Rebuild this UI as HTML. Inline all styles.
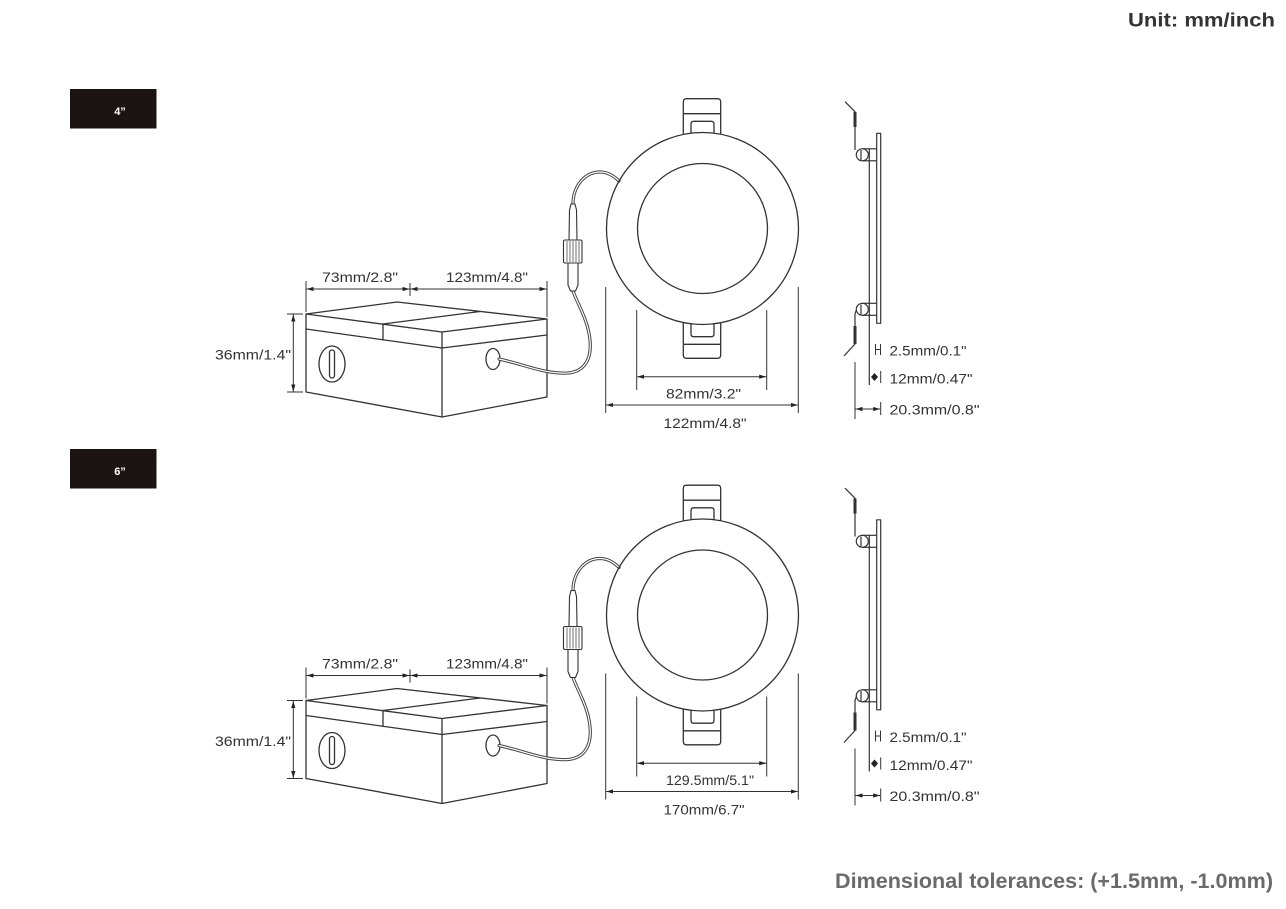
<!DOCTYPE html>
<html>
<head>
<meta charset="utf-8">
<style>
  html, body { margin:0; padding:0; background:#fff; }
  body { width:1286px; height:909px; overflow:hidden; }
  svg { display:block; }
  .dim { font-family:"Liberation Sans", sans-serif; font-size:14px; fill:#333; }
</style>
</head>
<body>
<svg width="1286" height="909" viewBox="0 0 1286 909" xmlns="http://www.w3.org/2000/svg">
  <defs>
    <marker id="ar" viewBox="0 0 10 6" refX="10" refY="3" markerWidth="7" markerHeight="4.4" orient="auto-start-reverse" markerUnits="userSpaceOnUse">
      <path d="M0,0 L10,3 L0,6 z" fill="#222"/>
    </marker>
  </defs>
  <rect width="1286" height="909" fill="#fff"/>

  <!-- Header / footer -->
  <text x="1128" y="26.5" textLength="147" lengthAdjust="spacingAndGlyphs" font-family="Liberation Sans, sans-serif" font-weight="bold" font-size="19" fill="#333">Unit: mm/inch</text>
  <text x="835" y="888" textLength="438" lengthAdjust="spacingAndGlyphs" font-family="Liberation Sans, sans-serif" font-weight="bold" font-size="21" fill="#6a6a6a">Dimensional tolerances: (+1.5mm, -1.0mm)</text>

  <!-- Size labels -->
  <rect x="70" y="89" width="86.5" height="39.5" fill="#1b1412"/>
  <text x="120" y="115" text-anchor="middle" font-family="Liberation Sans, sans-serif" font-weight="bold" font-size="11" fill="#fff">4”</text>
  <rect x="70" y="449" width="86.5" height="39.5" fill="#1b1412"/>
  <text x="120" y="475" text-anchor="middle" font-family="Liberation Sans, sans-serif" font-weight="bold" font-size="11" fill="#fff">6”</text>

  <!-- ================= TOP SECTION (4") ================= -->
  <g>
    <g fill="none" stroke="#333" stroke-width="1.3" stroke-linejoin="round" stroke-linecap="round">
      <!-- junction box -->
      <polygon points="306,314 397,302 547,319 442,332"/>
      <line x1="383" y1="324" x2="480" y2="311.5"/>
      <line x1="383" y1="324" x2="383" y2="340"/>
      <polyline points="306,329 442,348 547,335"/>
      <polyline points="306,314 306,392 442,417 547,397 547,319"/>
      <line x1="442" y1="332" x2="442" y2="417"/>
      <ellipse cx="332" cy="364" rx="13" ry="18"/>
      <rect x="329.5" y="350" width="5" height="28" rx="2.5"/>
      <ellipse cx="493" cy="359" rx="7" ry="10.5"/>
    </g>
    <!-- cable -->
    <g fill="none" stroke-linecap="round">
      <path d="M499,359 C522,364 540,372 560,373 C584,375 592,360 590,340 C588,320 578,305 573,291" stroke="#444" stroke-width="3.2"/>
      <path d="M499,359 C522,364 540,372 560,373 C584,375 592,360 590,340 C588,320 578,305 573,291" stroke="#fff" stroke-width="1.2"/>
      <path d="M573,204 C573,186 585,172 600,172 C608,172 614,176 619,181" stroke="#444" stroke-width="3.2"/>
      <path d="M573,204 C573,186 585,172 600,172 C608,172 614,176 619,181" stroke="#fff" stroke-width="1.2"/>
    </g>
    <!-- connector -->
    <g fill="#fff" stroke="#333" stroke-width="1.1" stroke-linejoin="round">
      <path d="M570.5,291 L568,285 L568,263 L578,263 L578,285 L575.5,291 Z"/>
      <path d="M569,240 L569.5,210 L571,204 L575,204 L576.5,210 L577,240 Z"/>
      <rect x="563.5" y="240" width="18.5" height="23" rx="1.5"/>
      <g stroke-width="0.7"><line x1="567" y1="241" x2="567" y2="262"/><line x1="570" y1="241" x2="570" y2="262"/><line x1="573" y1="241" x2="573" y2="262"/><line x1="576" y1="241" x2="576" y2="262"/><line x1="579" y1="241" x2="579" y2="262"/></g>
    </g>
    <!-- light -->
    <g fill="none" stroke="#333" stroke-width="1.3" stroke-linejoin="round">
      <circle cx="702.5" cy="228.5" r="96"/>
      <circle cx="702.5" cy="228.5" r="65"/>
      <path d="M683.3,134.5 V102 Q683.3,98.7 686.6,98.7 H717.4 Q720.7,98.7 720.7,102 V134.2"/>
      <line x1="683.3" y1="113.7" x2="720.7" y2="113.7"/>
      <path d="M691,133.2 V124 Q691,121.3 693.7,121.3 H711.3 Q714,121.3 714,124 V133.2"/>
      <path d="M683.3,322.7 V355 Q683.3,358.3 686.6,358.3 H717.4 Q720.7,358.3 720.7,355 V322.7"/>
      <line x1="683.3" y1="344.3" x2="720.7" y2="344.3"/>
      <path d="M691,323.8 V334 Q691,336.7 693.7,336.7 H711.3 Q714,336.7 714,334 V323.8"/>
    </g>
    <!-- side view -->
    <g fill="none" stroke="#333" stroke-width="1.2" stroke-linejoin="round">
      <path d="M845,101.7 L855,111.7 V150"/>
      <line x1="855" y1="112" x2="855" y2="127" stroke-width="3"/>
      <circle cx="862.3" cy="154.8" r="6"/>
      <line x1="861" y1="150" x2="861" y2="160"/>
      <line x1="862.3" y1="148.8" x2="876.7" y2="148.8"/>
      <line x1="862.3" y1="160.8" x2="876.7" y2="160.8"/>
      <line x1="869.3" y1="149" x2="869.3" y2="385"/>
      <rect x="876.7" y="133.3" width="4" height="190" fill="#fff"/>
      <circle cx="862.3" cy="309.3" r="6"/>
      <line x1="861" y1="304.5" x2="861" y2="314.5"/>
      <line x1="862.3" y1="303.3" x2="876.7" y2="303.3"/>
      <line x1="862.3" y1="315.3" x2="876.7" y2="315.3"/>
      <path d="M856.3,310 L855,314 V344 L844,356"/>
      <line x1="855" y1="326" x2="855" y2="344" stroke-width="3"/>
    </g>
    <g fill="none" stroke="#333" stroke-width="1">
      <line x1="875.5" y1="344" x2="875.5" y2="355"/>
      <line x1="880.5" y1="344" x2="880.5" y2="355"/>
      <line x1="875.5" y1="349.5" x2="880.5" y2="349.5"/>
      <line x1="880.7" y1="371" x2="880.7" y2="383"/>
      <line x1="855" y1="362" x2="855" y2="419"/>
      <line x1="880.7" y1="402" x2="880.7" y2="415"/>
      <line x1="855.5" y1="409" x2="880.2" y2="409" marker-start="url(#ar)" marker-end="url(#ar)"/>
    </g>
    <polygon points="874.5,373 878,377 874.5,381 871,377" fill="#222"/>
    <!-- dimension lines -->
    <g fill="none" stroke="#333" stroke-width="1">
      <line x1="306" y1="281" x2="306" y2="312"/>
      <line x1="410" y1="283" x2="410" y2="296"/>
      <line x1="547" y1="281" x2="547" y2="317"/>
      <line x1="306.5" y1="289" x2="409.5" y2="289" marker-start="url(#ar)" marker-end="url(#ar)"/>
      <line x1="410.5" y1="289" x2="546.5" y2="289" marker-start="url(#ar)" marker-end="url(#ar)"/>
      <line x1="287" y1="314" x2="303" y2="314"/>
      <line x1="287" y1="392" x2="303" y2="392"/>
      <line x1="293.3" y1="314.5" x2="293.3" y2="391.5" marker-start="url(#ar)" marker-end="url(#ar)"/>
      <line x1="636.7" y1="310" x2="636.7" y2="390"/>
      <line x1="766.7" y1="310" x2="766.7" y2="390"/>
      <line x1="637.2" y1="376.7" x2="766.2" y2="376.7" marker-start="url(#ar)" marker-end="url(#ar)"/>
      <line x1="605.7" y1="287" x2="605.7" y2="413"/>
      <line x1="798.3" y1="287" x2="798.3" y2="413"/>
      <line x1="606.2" y1="405" x2="797.8" y2="405" marker-start="url(#ar)" marker-end="url(#ar)"/>
    </g>
    <!-- labels -->
    <text class="dim" x="322" y="282" textLength="76" lengthAdjust="spacingAndGlyphs">73mm/2.8"</text>
    <text class="dim" x="446" y="282" textLength="82" lengthAdjust="spacingAndGlyphs">123mm/4.8"</text>
    <text class="dim" x="215" y="359.5" textLength="76" lengthAdjust="spacingAndGlyphs">36mm/1.4"</text>
    <text class="dim" x="666" y="398.5" textLength="75" lengthAdjust="spacingAndGlyphs">82mm/3.2"</text>
    <text class="dim" x="663.5" y="428" textLength="83" lengthAdjust="spacingAndGlyphs">122mm/4.8"</text>
    <text class="dim" x="889.5" y="355.5" textLength="77" lengthAdjust="spacingAndGlyphs">2.5mm/0.1"</text>
    <text class="dim" x="889.5" y="383.5" textLength="83" lengthAdjust="spacingAndGlyphs">12mm/0.47"</text>
    <text class="dim" x="889.5" y="414.5" textLength="90" lengthAdjust="spacingAndGlyphs">20.3mm/0.8"</text>
  </g>

  <!-- ================= BOTTOM SECTION (6") ================= -->
  <g transform="translate(0,386.5)">
    <g fill="none" stroke="#333" stroke-width="1.3" stroke-linejoin="round" stroke-linecap="round">
      <polygon points="306,314 397,302 547,319 442,332"/>
      <line x1="383" y1="324" x2="480" y2="311.5"/>
      <line x1="383" y1="324" x2="383" y2="340"/>
      <polyline points="306,329 442,348 547,335"/>
      <polyline points="306,314 306,392 442,417 547,397 547,319"/>
      <line x1="442" y1="332" x2="442" y2="417"/>
      <ellipse cx="332" cy="364" rx="13" ry="18"/>
      <rect x="329.5" y="350" width="5" height="28" rx="2.5"/>
      <ellipse cx="493" cy="359" rx="7" ry="10.5"/>
    </g>
    <g fill="none" stroke-linecap="round">
      <path d="M499,359 C522,364 540,372 560,373 C584,375 592,360 590,340 C588,320 578,305 573,291" stroke="#444" stroke-width="3.2"/>
      <path d="M499,359 C522,364 540,372 560,373 C584,375 592,360 590,340 C588,320 578,305 573,291" stroke="#fff" stroke-width="1.2"/>
      <path d="M573,204 C573,186 585,172 600,172 C608,172 614,176 619,181" stroke="#444" stroke-width="3.2"/>
      <path d="M573,204 C573,186 585,172 600,172 C608,172 614,176 619,181" stroke="#fff" stroke-width="1.2"/>
    </g>
    <g fill="#fff" stroke="#333" stroke-width="1.1" stroke-linejoin="round">
      <path d="M570.5,291 L568,285 L568,263 L578,263 L578,285 L575.5,291 Z"/>
      <path d="M569,240 L569.5,210 L571,204 L575,204 L576.5,210 L577,240 Z"/>
      <rect x="563.5" y="240" width="18.5" height="23" rx="1.5"/>
      <g stroke-width="0.7"><line x1="567" y1="241" x2="567" y2="262"/><line x1="570" y1="241" x2="570" y2="262"/><line x1="573" y1="241" x2="573" y2="262"/><line x1="576" y1="241" x2="576" y2="262"/><line x1="579" y1="241" x2="579" y2="262"/></g>
    </g>
    <g fill="none" stroke="#333" stroke-width="1.3" stroke-linejoin="round">
      <circle cx="702.5" cy="228.5" r="96"/>
      <circle cx="702.5" cy="228.5" r="65"/>
      <path d="M683.3,134.5 V102 Q683.3,98.7 686.6,98.7 H717.4 Q720.7,98.7 720.7,102 V134.2"/>
      <line x1="683.3" y1="113.7" x2="720.7" y2="113.7"/>
      <path d="M691,133.2 V124 Q691,121.3 693.7,121.3 H711.3 Q714,121.3 714,124 V133.2"/>
      <path d="M683.3,322.7 V355 Q683.3,358.3 686.6,358.3 H717.4 Q720.7,358.3 720.7,355 V322.7"/>
      <line x1="683.3" y1="344.3" x2="720.7" y2="344.3"/>
      <path d="M691,323.8 V334 Q691,336.7 693.7,336.7 H711.3 Q714,336.7 714,334 V323.8"/>
    </g>
    <g fill="none" stroke="#333" stroke-width="1.2" stroke-linejoin="round">
      <path d="M845,101.7 L855,111.7 V150"/>
      <line x1="855" y1="112" x2="855" y2="127" stroke-width="3"/>
      <circle cx="862.3" cy="154.8" r="6"/>
      <line x1="861" y1="150" x2="861" y2="160"/>
      <line x1="862.3" y1="148.8" x2="876.7" y2="148.8"/>
      <line x1="862.3" y1="160.8" x2="876.7" y2="160.8"/>
      <line x1="869.3" y1="149" x2="869.3" y2="385"/>
      <rect x="876.7" y="133.3" width="4" height="190" fill="#fff"/>
      <circle cx="862.3" cy="309.3" r="6"/>
      <line x1="861" y1="304.5" x2="861" y2="314.5"/>
      <line x1="862.3" y1="303.3" x2="876.7" y2="303.3"/>
      <line x1="862.3" y1="315.3" x2="876.7" y2="315.3"/>
      <path d="M856.3,310 L855,314 V344 L844,356"/>
      <line x1="855" y1="326" x2="855" y2="344" stroke-width="3"/>
    </g>
    <g fill="none" stroke="#333" stroke-width="1">
      <line x1="875.5" y1="344" x2="875.5" y2="355"/>
      <line x1="880.5" y1="344" x2="880.5" y2="355"/>
      <line x1="875.5" y1="349.5" x2="880.5" y2="349.5"/>
      <line x1="880.7" y1="371" x2="880.7" y2="383"/>
      <line x1="855" y1="362" x2="855" y2="419"/>
      <line x1="880.7" y1="402" x2="880.7" y2="415"/>
      <line x1="855.5" y1="409" x2="880.2" y2="409" marker-start="url(#ar)" marker-end="url(#ar)"/>
    </g>
    <polygon points="874.5,373 878,377 874.5,381 871,377" fill="#222"/>
    <g fill="none" stroke="#333" stroke-width="1">
      <line x1="306" y1="281" x2="306" y2="312"/>
      <line x1="410" y1="283" x2="410" y2="296"/>
      <line x1="547" y1="281" x2="547" y2="317"/>
      <line x1="306.5" y1="289" x2="409.5" y2="289" marker-start="url(#ar)" marker-end="url(#ar)"/>
      <line x1="410.5" y1="289" x2="546.5" y2="289" marker-start="url(#ar)" marker-end="url(#ar)"/>
      <line x1="287" y1="314" x2="303" y2="314"/>
      <line x1="287" y1="392" x2="303" y2="392"/>
      <line x1="293.3" y1="314.5" x2="293.3" y2="391.5" marker-start="url(#ar)" marker-end="url(#ar)"/>
      <line x1="636.7" y1="310" x2="636.7" y2="390"/>
      <line x1="766.7" y1="310" x2="766.7" y2="390"/>
      <line x1="637.2" y1="376.7" x2="766.2" y2="376.7" marker-start="url(#ar)" marker-end="url(#ar)"/>
      <line x1="605.7" y1="287" x2="605.7" y2="413"/>
      <line x1="798.3" y1="287" x2="798.3" y2="413"/>
      <line x1="606.2" y1="405" x2="797.8" y2="405" marker-start="url(#ar)" marker-end="url(#ar)"/>
    </g>
    <text class="dim" x="322" y="282" textLength="76" lengthAdjust="spacingAndGlyphs">73mm/2.8"</text>
    <text class="dim" x="446" y="282" textLength="82" lengthAdjust="spacingAndGlyphs">123mm/4.8"</text>
    <text class="dim" x="215" y="359.5" textLength="76" lengthAdjust="spacingAndGlyphs">36mm/1.4"</text>
    <text class="dim" x="666" y="398.5" textLength="88" lengthAdjust="spacingAndGlyphs">129.5mm/5.1"</text>
    <text class="dim" x="663.5" y="428" textLength="81" lengthAdjust="spacingAndGlyphs">170mm/6.7"</text>
    <text class="dim" x="889.5" y="355.5" textLength="77" lengthAdjust="spacingAndGlyphs">2.5mm/0.1"</text>
    <text class="dim" x="889.5" y="383.5" textLength="83" lengthAdjust="spacingAndGlyphs">12mm/0.47"</text>
    <text class="dim" x="889.5" y="414.5" textLength="90" lengthAdjust="spacingAndGlyphs">20.3mm/0.8"</text>
  </g>
</svg>
</body>
</html>
